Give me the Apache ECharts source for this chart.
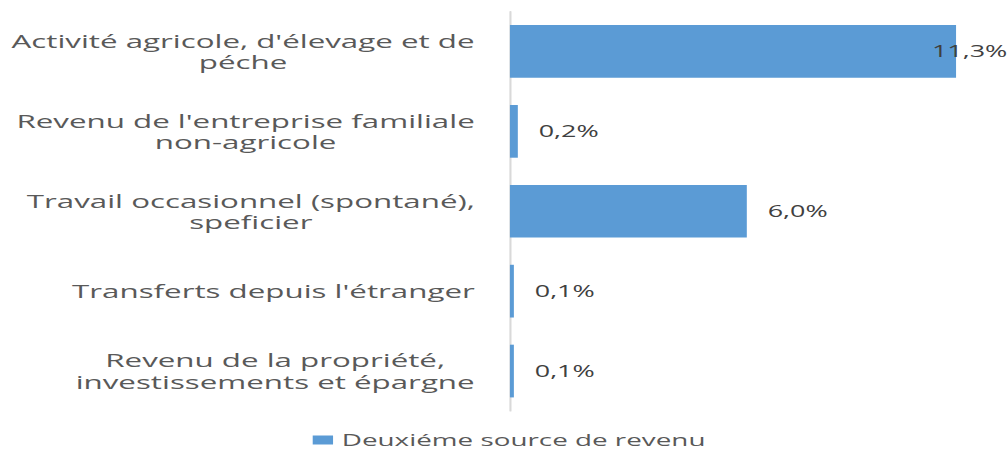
<!DOCTYPE html>
<html><head><meta charset="utf-8">
<script src="https://cdn.jsdelivr.net/npm/echarts@6/dist/echarts.min.js"></script>
<style>
html,body{margin:0;padding:0;background:#fff;overflow:hidden;width:1007px;height:449px}
#chart{width:579px;height:449px;transform:scaleX(1.7392);transform-origin:0 0;}
</style>
</head><body><div id="chart"></div>
<script>
const categories = [
  "Activité agricole, d'élevage et de\npéche",
  "Revenu de l'entreprise familiale\nnon-agricole",
  "Travail occasionnel (spontané),\nspeficier",
  "Transferts depuis l'étranger",
  "Revenu de la propriété,\ninvestissements et épargne"
];
const values = [11.3, 0.2, 6.0, 0.1, 0.1];
const seriesName = 'Deuxiéme source de revenu';

const FONT = '"Open Sans", "Noto Sans", sans-serif';
const catSize = 18;
const ctx = document.createElement('canvas').getContext('2d');
ctx.font = catSize + 'px ' + FONT;
const rich = {};
categories.forEach((c, i) => {
  const w = Math.max.apply(null, c.split('\n').map(l => ctx.measureText(l).width));
  rich['c' + i] = { width: Math.ceil(w), align: 'center', fontSize: catSize, fontFamily: FONT, color: '#595959', lineHeight: 21.5 };
});
const maxIdx = values.indexOf(Math.max.apply(null, values));
const fmt = v => v.toFixed(1).replace('.', ',') + '%';

const chart = echarts.init(document.getElementById('chart'), null, { renderer: 'svg' });
chart.setOption({
  animation: false,
  backgroundColor: '#fff',
  grid: { left: 293.2, right: 13.4, top: 11.5, bottom: 38, containLabel: false },
  xAxis: { type: 'value', min: 0, max: 12, show: false },
  yAxis: {
    type: 'category', inverse: true, data: categories,
    axisLine: { show: true, lineStyle: { color: '#d9d9d9', width: 1.2 } },
    axisTick: { show: false },
    axisLabel: {
      interval: 0, margin: 20, align: 'right',
      fontSize: catSize, fontFamily: FONT, color: '#595959', lineHeight: 21.5,
      formatter: (v, idx) => v.split('\n').map(l => '{c' + idx + '|' + l + '}').join('\n'),
      rich: rich
    }
  },
  legend: {
    show: true, left: 174.8, top: 427, itemWidth: 11.7, itemHeight: 9, itemGap: 10,
    icon: 'rect',
    textStyle: { fontSize: 16, fontFamily: FONT, color: '#595959' },
    data: [seriesName]
  },
  series: [{
    name: seriesName, type: 'bar', barCategoryGap: '34%',
    itemStyle: { color: '#5b9bd5' },
    label: {
      show: true, position: 'right', distance: 12,
      fontSize: 15.5, fontFamily: FONT, color: '#404040',
      formatter: p => fmt(p.value)
    },
    data: values.map((v, i) => i === maxIdx ? { value: v, label: { position: 'insideRight', offset: [41.5, 0] } } : v)
  }]
});
</script>
</body></html>
